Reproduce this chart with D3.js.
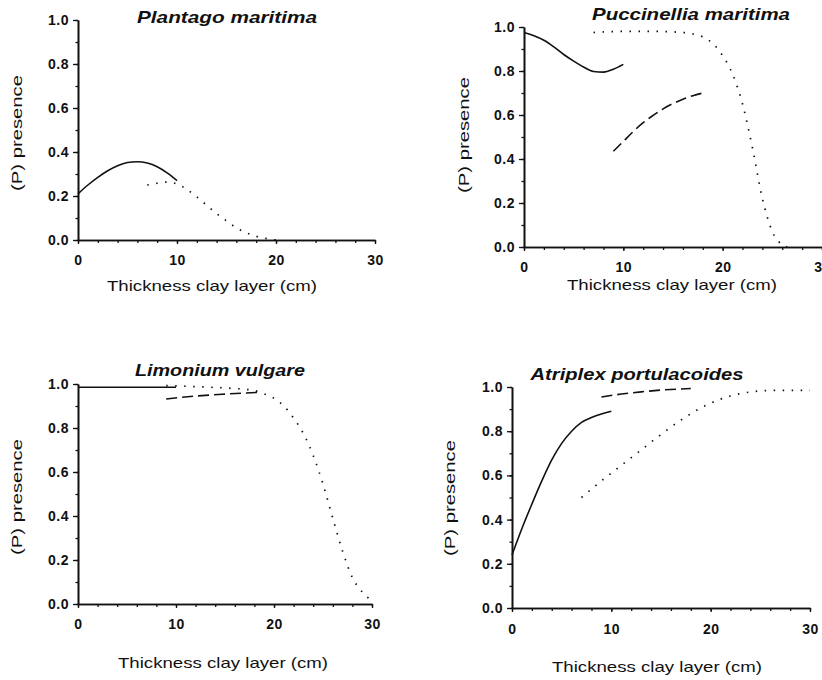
<!DOCTYPE html>
<html>
<head>
<meta charset="utf-8">
<script src="https://cdn.jsdelivr.net/npm/d3@7"></script>
<style>
  body { margin: 0; background: #fff; }
  svg { display: block; }
  text { font-family: "Liberation Sans", Arial, sans-serif; fill: #111; }
</style>
</head>
<body>
<svg id="chart" width="822" height="680"></svg>
<script>
// Probability of presence against thickness of the clay layer, four species

const xTicks = [0, 10, 20, 30];
const yTicks = [0, 0.2, 0.4, 0.6, 0.8, 1.0];
const xTitle = 'Thickness clay layer (cm)';
const yTitle = '(P) presence';
const species = ['Plantago maritima', 'Puccinellia maritima', 'Limonium vulgare', 'Atriplex portulacoides'];

// [thickness, P]
const plantagoSolid = [[0, 0.21], [1, 0.25], [2, 0.285], [3, 0.315], [4, 0.338], [5, 0.352], [6, 0.356], [7, 0.35], [8, 0.333], [9, 0.305], [10, 0.27]];
const plantagoDotted = [[7, 0.25], [8, 0.258], [9, 0.263], [10, 0.255], [11, 0.23], [12, 0.196], [13, 0.158], [14, 0.12], [15, 0.087], [16, 0.055], [17, 0.033], [18, 0.017], [19, 0.007], [20, 0]];

const puccSolid = [[0, 0.975], [1, 0.96], [2, 0.94], [3, 0.91], [4, 0.875], [5, 0.845], [6, 0.818], [7, 0.798], [8, 0.795], [9, 0.808], [10, 0.83]];
const puccDashed = [[9, 0.435], [10, 0.48], [11, 0.525], [12, 0.565], [13, 0.598], [14, 0.628], [15, 0.652], [16, 0.672], [17, 0.688], [18, 0.70]];
const puccDotted = [[7, 0.975], [10, 0.98], [13, 0.98], [16, 0.975], [17, 0.968], [18, 0.955], [19, 0.925], [20, 0.87], [21, 0.785], [22, 0.65], [23, 0.45], [24, 0.22], [25, 0.07], [26, 0.01], [26.5, 0]];

const limoSolid = [[0, 0.985], [10, 0.985]];
const limoDashed = [[9, 0.932], [12, 0.945], [15, 0.954], [18.3, 0.962]];
const limoDotted = [[9, 0.993], [12, 0.988], [15, 0.982], [18, 0.97], [19, 0.955], [20, 0.935], [21, 0.9], [22, 0.845], [23, 0.775], [24, 0.675], [25, 0.545], [26, 0.39], [27, 0.24], [28, 0.12], [29, 0.055], [29.8, 0.02]];

const atriSolid = [[0, 0.24], [1, 0.36], [2, 0.47], [3, 0.575], [4, 0.67], [5, 0.745], [6, 0.8], [7, 0.84], [8, 0.862], [9, 0.878], [10, 0.89]];
const atriDashed = [[9, 0.955], [11, 0.968], [13, 0.978], [15, 0.986], [18, 0.993]];
const atriDotted = [[7, 0.5], [9, 0.575], [11, 0.645], [13, 0.715], [15, 0.785], [17, 0.85], [19, 0.905], [21, 0.945], [23, 0.97], [25, 0.982], [27, 0.985], [30, 0.985]];

const seriesByPanel = [
  { solid: plantagoSolid, dotted: plantagoDotted },
  { solid: puccSolid, dashed: puccDashed, dotted: puccDotted },
  { solid: limoSolid, dashed: limoDashed, dotted: limoDotted },
  { solid: atriSolid, dashed: atriDashed, dotted: atriDotted }
];

// where each small plot sits on the page
const layout = [
  { x0: 78, x1: 375, top: 20, bottom: 240, pad: 11, titleX: 227, titleY: 23, titleW: 180, yLabX: 17, yLabY: 133, xLabX: 212, xLabY: 291 },
  { x0: 524, x1: 822, top: 27, bottom: 247, pad: 11, titleX: 691, titleY: 20, titleW: 198, yLabX: 464, yLabY: 135, xLabX: 672, xLabY: 290 },
  { x0: 78, x1: 372, top: 384, bottom: 604, pad: 11, titleX: 220, titleY: 376, titleW: 170, yLabX: 17, yLabY: 497, xLabX: 223, xLabY: 668 },
  { x0: 512, x1: 810, top: 387, bottom: 608, pad: 12, titleX: 637, titleY: 380, titleW: 213, yLabX: 450, yLabY: 498, xLabX: 657, xLabY: 672 }
];

const lineStyles = {
  solid: null,
  dashed: '11,5',
  dotted: '1.5,7.5'
};

const svg = d3.select('#chart');

function drawPanel(p, i) {
  const x = d3.scaleLinear().domain([0, 30]).range([p.x0, p.x1]);
  const y = d3.scaleLinear().domain([0, 1]).range([p.bottom, p.top]);
  const g = svg.append('g');

  // minor ticks first, then the labelled axis on top
  g.append('g')
    .attr('transform', `translate(0,${p.bottom})`)
    .call(d3.axisBottom(x).tickValues(d3.range(0, 31, 2)).tickSize(3).tickSizeOuter(0).tickFormat(''));
  g.append('g')
    .attr('transform', `translate(${p.x0},0)`)
    .call(d3.axisLeft(y).tickValues(d3.range(0, 1.01, 0.1)).tickSize(2.5).tickSizeOuter(0).tickFormat(''));

  const xa = g.append('g')
    .attr('transform', `translate(0,${p.bottom})`)
    .call(d3.axisBottom(x).tickValues(xTicks).tickSize(4).tickSizeOuter(0).tickPadding(p.pad));
  const ya = g.append('g')
    .attr('transform', `translate(${p.x0},0)`)
    .call(d3.axisLeft(y).tickValues(yTicks).tickSize(5).tickSizeOuter(0).tickPadding(4).tickFormat(d3.format('.1f')));

  g.selectAll('.domain').attr('stroke', '#111').attr('stroke-width', 1.6);
  g.selectAll('.tick line').attr('stroke', '#111').attr('stroke-width', 1.3);
  [xa, ya].forEach(a => a.attr('font-size', null).selectAll('text')
    .style('font-size', '14px')
    .style('font-weight', 'bold')
    .style('font-family', '"Liberation Sans", Arial, sans-serif')
    .style('letter-spacing', '0.5px')
    .attr('fill', '#111'));

  const line = d3.line()
    .x(d => x(d[0]))
    .y(d => y(d[1]))
    .curve(d3.curveMonotoneX);

  const s = seriesByPanel[i];
  Object.keys(s).forEach(key => {
    g.append('path')
      .datum(s[key])
      .attr('fill', 'none')
      .attr('stroke', '#111')
      .attr('stroke-width', key === 'dotted' ? 1.7 : 1.6)
      .attr('stroke-dasharray', lineStyles[key])
      .attr('d', line);
  });

  g.append('text')
    .attr('x', p.titleX)
    .attr('y', p.titleY)
    .attr('text-anchor', 'middle')
    .attr('font-size', 17)
    .attr('font-weight', 'bold')
    .attr('font-style', 'italic')
    .attr('textLength', p.titleW)
    .attr('lengthAdjust', 'spacingAndGlyphs')
    .text(species[i]);

  g.append('text')
    .attr('x', p.xLabX)
    .attr('y', p.xLabY)
    .attr('text-anchor', 'middle')
    .attr('font-size', 15)
    .attr('textLength', 210)
    .attr('lengthAdjust', 'spacingAndGlyphs')
    .text(xTitle);

  g.append('text')
    .attr('transform', `translate(${p.yLabX},${p.yLabY}) rotate(-90)`)
    .attr('dy', '0.35em')
    .attr('text-anchor', 'middle')
    .attr('font-size', 15)
    .attr('textLength', 116)
    .attr('lengthAdjust', 'spacingAndGlyphs')
    .text(yTitle);
}

layout.forEach(drawPanel);
</script>
</body>
</html>
